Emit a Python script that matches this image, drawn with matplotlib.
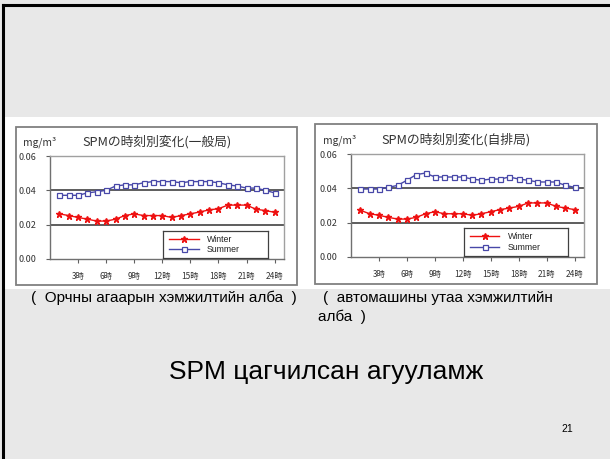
import numpy as np
import matplotlib
matplotlib.use('Agg')
import matplotlib.pyplot as plt
from matplotlib.patches import Rectangle
from matplotlib.lines import Line2D

plt.rcParams['font.family'] = ['Liberation Sans', 'Noto Sans CJK JP', 'DejaVu Sans']

W, H = 610, 459

hours = list(range(1, 25))
tick_hours = [3, 6, 9, 12, 15, 18, 21, 24]
tick_labels = ['3時', '6時', '9時', '12時', '15時', '18時', '21時', '24時']

# 一般局 (ambient station)
amb_winter = [0.0263, 0.0253, 0.0242, 0.0232, 0.0221, 0.0221, 0.0232, 0.0253,
              0.0263, 0.0253, 0.0253, 0.0253, 0.0242, 0.0253, 0.0263, 0.0274,
              0.0286, 0.0293, 0.0314, 0.0314, 0.0314, 0.0290, 0.0282, 0.0272]
amb_summer = [0.0371, 0.0371, 0.0371, 0.0385, 0.0392, 0.0400, 0.0425, 0.0432,
              0.0432, 0.0444, 0.0451, 0.0451, 0.0451, 0.0444, 0.0451, 0.0451,
              0.0451, 0.0444, 0.0432, 0.0425, 0.0413, 0.0413, 0.0400, 0.0385]

# 自排局 (roadside station)
road_winter = [0.0272, 0.0252, 0.0243, 0.0231, 0.0221, 0.0221, 0.0231, 0.0252,
               0.0264, 0.0252, 0.0252, 0.0252, 0.0243, 0.0252, 0.0264, 0.0276,
               0.0285, 0.0295, 0.0315, 0.0315, 0.0315, 0.0295, 0.0285, 0.0276]
road_summer = [0.0396, 0.0396, 0.0396, 0.0406, 0.0417, 0.0447, 0.0480, 0.0489,
               0.0466, 0.0466, 0.0466, 0.0466, 0.0454, 0.0447, 0.0454, 0.0454,
               0.0466, 0.0454, 0.0447, 0.0437, 0.0437, 0.0437, 0.0417, 0.0406]

y_ticks = [0.00, 0.02, 0.04, 0.06]
y_labels = ['0.00', '0.02', '0.04', '0.06']

titles = ['SPMの時刻別変化(一般局)', 'SPMの時刻別変化(自排局)']
caption_left = '(  Орчны агаарын хэмжилтийн алба  )'
caption_right = ['(  автомашины утаа хэмжилтийн', 'алба  )']
main_text = 'SPM цагчилсан агууламж'
page_no = '21'

CJK = ['Noto Sans CJK JP', 'DejaVu Sans']
RED = '#ee1111'
BLUE = '#4848a8'


def px_rect(x0, y0, x1, y1):
    return [x0 / W, 1 - y1 / H, (x1 - x0) / W, (y1 - y0) / H]


fig = plt.figure(figsize=(W / 100, H / 100), dpi=100, facecolor='#e8e8e8')

# white band behind the pictures
fig.patches.append(Rectangle((5 / W, 1 - 289 / H), 605 / W, 172 / H,
                             transform=fig.transFigure, facecolor='white',
                             edgecolor='none', zorder=0))
# slide border (top and left)
fig.add_artist(Line2D([3 / W, 1], [1 - 5 / H, 1 - 5 / H], color='black', lw=2.2))
fig.add_artist(Line2D([3 / W, 3 / W], [0, 1 - 5 / H], color='black', lw=2.2))

charts = [
    dict(frame=(16, 127, 297, 285), plot=(50, 156, 284, 259), title_x=157, title_y=142,
         unit_x=23, winter=amb_winter, summer=amb_summer, legend=(163, 231, 268, 258)),
    dict(frame=(315, 124, 597, 284), plot=(351, 154, 584, 257), title_x=456, title_y=140,
         unit_x=323, winter=road_winter, summer=road_summer, legend=(464, 228, 568, 256)),
]

for i, c in enumerate(charts):
    fx0, fy0, fx1, fy1 = c['frame']
    fig.patches.append(Rectangle((fx0 / W, 1 - fy1 / H), (fx1 - fx0) / W, (fy1 - fy0) / H,
                                 transform=fig.transFigure, facecolor='white',
                                 edgecolor='#808080', lw=1.3, zorder=1))
    ax = fig.add_axes(px_rect(*c['plot']))
    ax.set_facecolor('white')
    ax.set_zorder(2)
    ax.plot(hours, c['winter'], color=RED, lw=1.0, marker='*', ms=5, mec=RED, mfc=RED)
    ax.plot(hours, c['summer'], color=BLUE, lw=1.0, marker='s', ms=3.6, mec=BLUE,
            mfc='white', mew=0.9)
    for g in [0.02, 0.04]:
        ax.axhline(g, color='#505050', lw=1.3, zorder=0)
    ax.set_xlim(0, 25)
    ax.set_ylim(0, 0.06)
    ax.set_xticks(tick_hours)
    ax.set_xticklabels(tick_labels, family=CJK, fontsize=6, color='#333333')
    ax.set_yticks(y_ticks)
    ax.set_yticklabels(y_labels, family=CJK, fontsize=6.5, color='#333333')
    ax.tick_params(axis='x', length=3, width=0.8, color='#606060', pad=6)
    ax.tick_params(axis='y', length=3, width=0.8, color='#606060', pad=7)
    for s in ['top', 'right']:
        ax.spines[s].set_color('#a0a0a0')
        ax.spines[s].set_linewidth(1.0)
    for s in ['left', 'bottom']:
        ax.spines[s].set_color('#707070')
        ax.spines[s].set_linewidth(1.0)

    fig.text(c['unit_x'] / W, 1 - c['title_y'] / H, 'mg/m³', family=CJK, fontsize=7.4,
             ha='left', va='center', color='#333333')
    fig.text(c['title_x'] / W, 1 - c['title_y'] / H, titles[i], family=CJK, fontsize=9.2,
             ha='center', va='center', color='#333333')

    lx0, ly0, lx1, ly1 = c['legend']
    lax = fig.add_axes(px_rect(lx0, ly0, lx1, ly1))
    lax.set_zorder(3)
    lax.set_xticks([])
    lax.set_yticks([])
    for s in lax.spines.values():
        s.set_color('#404040')
        s.set_linewidth(0.9)
    lax.set_xlim(0, 1)
    lax.set_ylim(0, 1)
    lax.plot([0.06, 0.34], [0.7, 0.7], color=RED, lw=1.0)
    lax.plot([0.2], [0.7], color=RED, marker='*', ms=5)
    lax.plot([0.06, 0.34], [0.32, 0.32], color=BLUE, lw=1.0)
    lax.plot([0.2], [0.32], color=BLUE, marker='s', ms=3.6, mfc='white', mew=0.9)
    lax.text(0.42, 0.7, 'Winter', fontsize=6.3, va='center', color='#222222')
    lax.text(0.42, 0.32, 'Summer', fontsize=6.3, va='center', color='#222222')

fig.text(31 / W, 1 - 298 / H, caption_left, fontsize=11, ha='left', va='center')
fig.text(323 / W, 1 - 298 / H, caption_right[0], fontsize=11, ha='left', va='center')
fig.text(318 / W, 1 - 317 / H, caption_right[1], fontsize=11, ha='left', va='center')
fig.text(326 / W, 1 - 372 / H, main_text, fontsize=19, ha='center', va='center')
fig.text(567 / W, 1 - 429 / H, page_no, fontsize=7.5, ha='center', va='center')

fig.savefig('out.png', dpi=100, facecolor=fig.get_facecolor())
